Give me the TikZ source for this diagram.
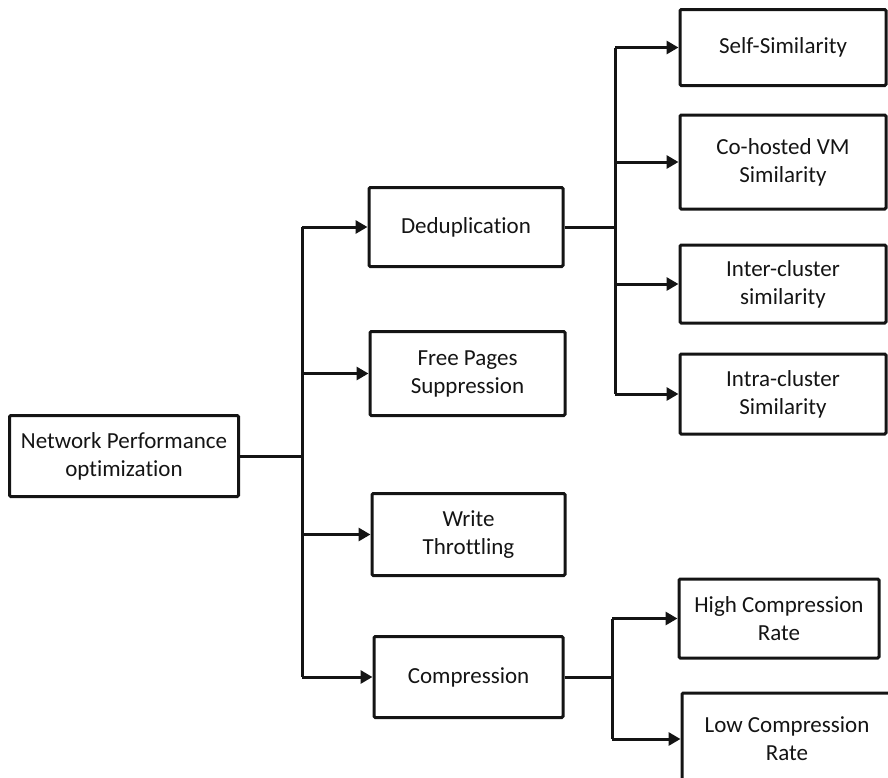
\documentclass[tikz,border=0pt]{standalone}
\usepackage{fontspec}
\setmainfont{Carlito}[Ligatures={NoCommon,NoRare,NoContextual}]
\usetikzlibrary{arrows.meta}
\definecolor{ink}{HTML}{141414}
\begin{document}
\begin{tikzpicture}[x=1pt,y=-1pt,
  box/.style={draw=ink, line width=3pt, rounded corners=1.2pt, align=center,
    inner sep=0pt, text=ink, font=\fontsize{23}{28}\selectfont},
  link/.style={draw=ink, line width=3pt},
  arr/.style={link, -{Triangle[length=12pt,width=13pt]}}]
\useasboundingbox (0,0) rectangle (888,777);
\clip (0,0) rectangle (888,777);

% root and first level
\node[box, minimum width=229pt, minimum height=81pt] (root) at (124,456) {Network Performance\\optimization};
\node[box, minimum width=194pt, minimum height=79pt] (dedup) at (466,227) {Deduplication};
\node[box, minimum width=195pt, minimum height=84pt] (free) at (467.5,373.5) {Free Pages\\Suppression};
\node[box, minimum width=193pt, minimum height=82pt] (write) at (468.5,534.5) {Write\\Throttling};
\node[box, minimum width=189pt, minimum height=81pt] (comp) at (468.5,677) {Compression};

% deduplication children
\node[box, minimum width=206pt, minimum height=76pt] (self) at (783,47.5) {Self-Similarity};
\node[box, minimum width=206pt, minimum height=94pt] (cohost) at (783,162) {Co-hosted VM\\Similarity};
\node[box, minimum width=206pt, minimum height=78pt] (inter) at (783,284) {Inter-cluster\\similarity};
\node[box, minimum width=206pt, minimum height=80pt] (intra) at (783,394) {Intra-cluster\\Similarity};

% compression children
\node[box, minimum width=200pt, minimum height=79pt] (high) at (779,618.5) {High Compression\\Rate};
\node[box, minimum width=210pt, minimum height=92pt] (low) at (787,739) {Low Compression\\Rate};

% junction points
\coordinate (j1) at (302,456);
\coordinate (j2) at (615,227);
\coordinate (j3) at (612,677);

% trunks
\draw[link] (root.east) -- (j1);
\draw[link] (j1 |- dedup.west) -- (j1 |- comp.west);
\draw[link] (dedup.east) -- (j2);
\draw[link] (j2 |- self.west) -- (j2 |- intra.west);
\draw[link] (comp.east) -- (j3);
\draw[link] (j3 |- high.west) -- (j3 |- low.west);

% branches
\foreach \t in {dedup,free,write,comp} \draw[arr] (j1 |- \t.west) -- (\t.west);
\foreach \t in {self,cohost,inter,intra} \draw[arr] (j2 |- \t.west) -- (\t.west);
\foreach \t in {high,low} \draw[arr] (j3 |- \t.west) -- (\t.west);
\end{tikzpicture}
\end{document}
